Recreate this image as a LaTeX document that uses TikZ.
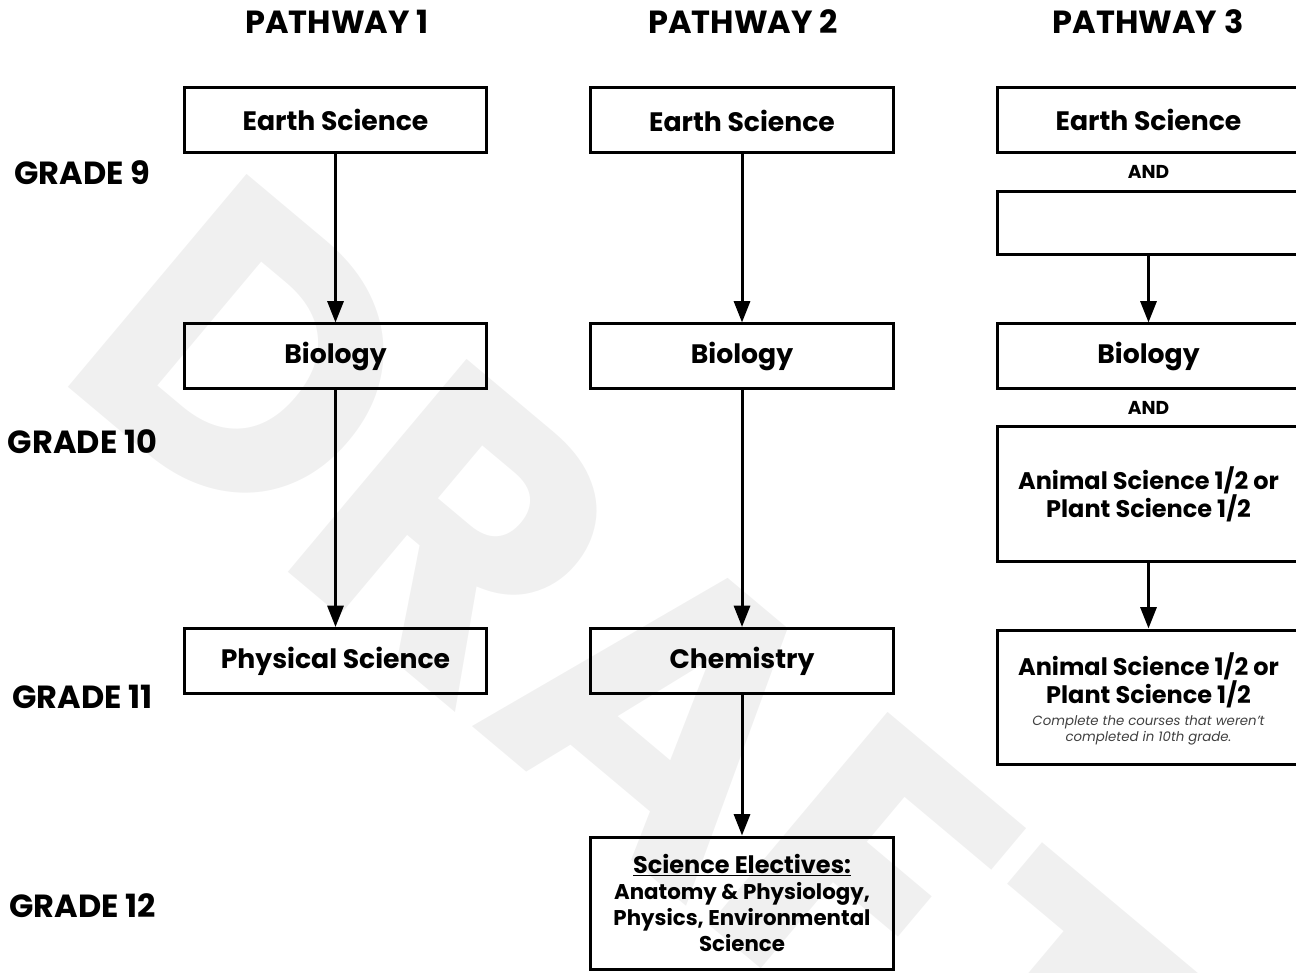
\documentclass[tikz,border=0pt]{standalone}
\usepackage{fontspec}
\setmainfont{Poppins}
\usetikzlibrary{arrows.meta}
\newcommand{\notefont}{\fontsize{10}{12}\selectfont\mdseries\itshape\color{black!75}}
\begin{document}
\begin{tikzpicture}[x=0.75pt, y=-0.75pt,
    box/.style={draw, rectangle, line width=2.25pt, minimum width=227pt, minimum height=48.75pt, align=center, font=\fontsize{20}{24}\selectfont\bfseries},
    bigbox/.style={box, minimum height=100.5pt, font=\fontsize{18}{21}\selectfont\bfseries},
    head/.style={font=\fontsize{24}{28}\selectfont\bfseries},
    andtext/.style={font=\fontsize{14}{16}\selectfont\bfseries},
    flow/.style={-{Triangle[length=16pt, width=12pt]}, line width=2.25pt}]
    \useasboundingbox (0,0) rectangle (1296,973);
    \clip (0,0) rectangle (1296,973);

    % Marca de agua
    \node (draft) [rotate=-40, text=black!6, font=\fontsize{297}{297}\selectfont\bfseries] at (632,679) {DRAFT};

    % Encabezados
    \node (pw1) [head] at (337,22) {PATHWAY 1};
    \node (pw2) [head] at (743,22) {PATHWAY 2};
    \node (pw3) [head] at (1148,22) {PATHWAY 3};

    \node (g9) [head] at (82.5,173) {GRADE 9};
    \node (g10) [head] at (82.5,442) {GRADE 10};
    \node (g11) [head] at (82.5,697) {GRADE 11};
    \node (g12) [head] at (82.5,906) {GRADE 12};

    % Pathway 1
    \node (earthA) [box] at (335.5,120) {Earth Science};
    \node (bioA) [box] at (335.5,356.5) {Biology};
    \node (physA) [box] at (335.5,661) {Physical Science};

    % Pathway 2
    \node (earthB) [box] at (742,120.5) {Earth Science};
    \node (bioB) [box] at (742,356.5) {Biology};
    \node (chemB) [box] at (742,661) {Chemistry};
    \node (elecB) [box, minimum height=99pt, font=\fontsize{16}{19.5}\selectfont\bfseries] at (742,903)
    {{\fontsize{18}{20}\selectfont\underline{Science Electives:}}\\ Anatomy \& Physiology,\\ Physics, Environmental\\ Science};

    % Pathway 3
    \node (earthC) [box] at (1148.5,120) {Earth Science};
    \node (andC1) [andtext] at (1148.5,172) {AND};
    \node (blankC) [box, minimum height=47.25pt] at (1148.5,223.5) {};
    \node (bioC) [box] at (1148.5,356.5) {Biology};
    \node (andC2) [andtext] at (1148.5,408) {AND};
    \node (animC) [bigbox] at (1148.5,494) {Animal Science 1/2 or\\ Plant Science 1/2};
    \node (animD) [bigbox, text depth=0pt] at (1148.5,697)
    {Animal Science 1/2 or\\ Plant Science 1/2\\[-5pt]
     \notefont Complete the courses that weren’t\\[-9pt] \notefont completed in 10th grade.};

    % Flechas
    \draw[flow] (earthA) -- (bioA);
    \draw[flow] (bioA) -- (physA);
    \draw[flow] (earthB) -- (bioB);
    \draw[flow] (bioB) -- (chemB);
    \draw[flow] (chemB) -- (elecB);
    \draw[flow] (blankC) -- (bioC);
    \draw[flow] (animC) -- (animD);
\end{tikzpicture}
\end{document}
